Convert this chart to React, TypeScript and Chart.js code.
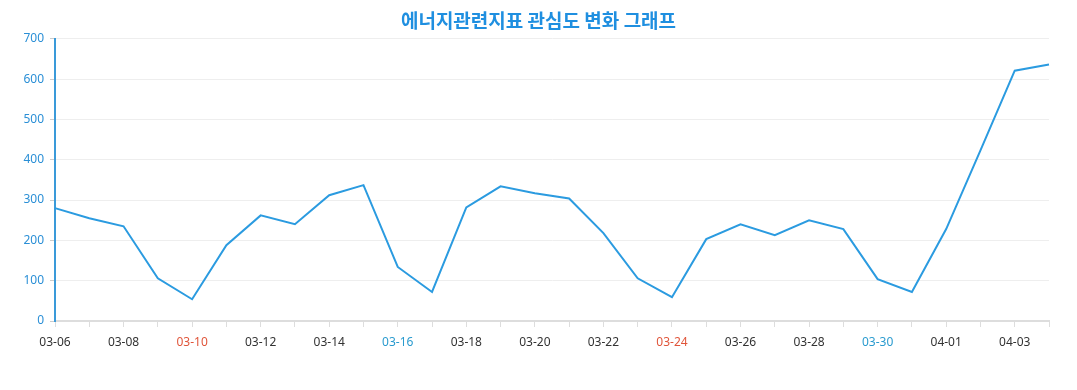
import React, { useEffect, useRef } from "react";
import { Chart, registerables } from "chart.js";

Chart.register(...registerables);

const TITLE = "에너지관련지표 관심도 변화 그래프";

const dates = [
  "03-06", "03-07", "03-08", "03-09", "03-10", "03-11", "03-12", "03-13", "03-14", "03-15",
  "03-16", "03-17", "03-18", "03-19", "03-20", "03-21", "03-22", "03-23", "03-24", "03-25",
  "03-26", "03-27", "03-28", "03-29", "03-30", "03-31", "04-01", "04-02", "04-03", "04-04",
];

const values = [
  280, 255, 235, 106, 54, 188, 262, 240, 312, 337,
  134, 72, 282, 334, 317, 304, 218, 106, 59, 203,
  240, 213, 250, 228, 104, 72, 228, 423, 621, 636,
];

const redLabels = ["03-10", "03-24"];
const blueLabels = ["03-16", "03-30"];

const yTicks = [0, 100, 200, 300, 400, 500, 600, 700];

export default function App() {
  const ref = useRef<HTMLCanvasElement>(null);
  useEffect(() => {
    if (!ref.current) return;
    const chart = new Chart(ref.current, {
      type: "line",
      data: {
        labels: dates,
        datasets: [
          {
            data: values,
            borderColor: "#2b9be0",
            borderWidth: 2,
            pointRadius: 0,
            tension: 0,
            fill: false,
          },
        ],
      },
      options: {
        animation: false,
        responsive: false,
        layout: { padding: { left: 0, right: 0, top: 0, bottom: 0 } },
        plugins: {
          legend: { display: false },
          tooltip: { enabled: false },
          title: {
            display: true,
            text: TITLE,
            color: "#1f8fe0",
            font: { family: "'Noto Sans CJK KR'", size: 19, weight: "bold" },
            padding: { top: 9, bottom: 7 },
          },
        },
        scales: {
          x: {
            type: "category",
            offset: false,
            grid: {
              drawOnChartArea: false,
              drawTicks: true,
              tickLength: 6,
              tickColor: "#dddddd",
            },
            border: { color: "#dddddd", width: 2 },
            ticks: {
              autoSkip: false,
              maxRotation: 0,
              padding: 8,
              font: { family: "'Noto Sans'", size: 12 },
              color: (ctx: any) => {
                const l = dates[ctx.index];
                if (redLabels.includes(l)) return "#e0553a";
                if (blueLabels.includes(l)) return "#2a9bcf";
                return "#333333";
              },
              callback: (_v: any, i: number) => (i % 2 === 0 ? dates[i] : ""),
            },
            afterFit: (s: any) => {
              s.height = 69;
            },
          },
          y: {
            min: 0,
            max: 700,
            afterBuildTicks: (s: any) => {
              s.ticks = yTicks.map((v) => ({ value: v }));
            },
            grid: {
              color: "#eeeeee",
              drawTicks: true,
              tickLength: 5,
              tickColor: "#cccccc",
            },
            border: { color: "#3a9ad9", width: 2 },
            ticks: {
              color: "#2a8fd6",
              padding: 6,
              font: { family: "'Noto Sans'", size: 12 },
            },
            afterFit: (s: any) => {
              s.width = 55;
            },
          },
          yRight: {
            position: "right",
            display: true,
            grid: { display: false, drawTicks: false },
            border: { display: false },
            ticks: { display: false },
            afterFit: (s: any) => {
              s.width = 28;
            },
          },
        },
      },
    });
    return () => chart.destroy();
  }, []);
  return (
    <div style={{ position: "absolute", left: 0, top: 0, width: 1077, height: 390 }}>
      <canvas ref={ref} width={1077} height={390} />
    </div>
  );
}
